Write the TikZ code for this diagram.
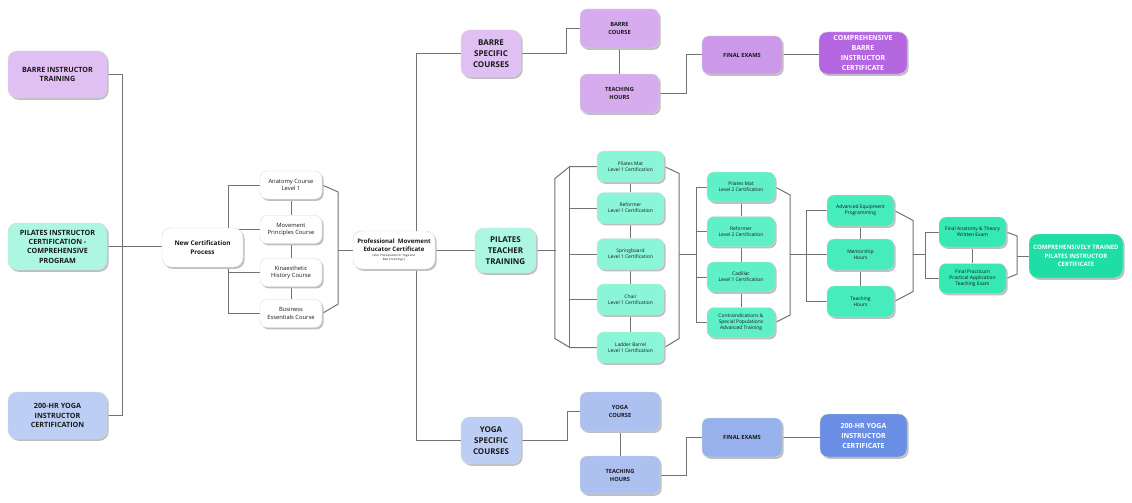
\documentclass[tikz,border=0pt]{standalone}
\usepackage{fontspec}
\setmainfont{Open Sans}
\usetikzlibrary{shadows,backgrounds}

\definecolor{linkgray}{HTML}{727272}
\definecolor{barreA}{HTML}{E0BFF3}
\definecolor{barreB}{HTML}{D6ACEE}
\definecolor{barreC}{HTML}{CB98EA}
\definecolor{barreD}{HTML}{B567E1}
\definecolor{mintA}{HTML}{ACF6E2}
\definecolor{mintB}{HTML}{8BF6D7}
\definecolor{mintC}{HTML}{5FF0C8}
\definecolor{mintD}{HTML}{47ECBC}
\definecolor{mintE}{HTML}{36E8B2}
\definecolor{mintF}{HTML}{1EDEA6}
\definecolor{blueA}{HTML}{BDCEF5}
\definecolor{blueB}{HTML}{ADC1F1}
\definecolor{blueC}{HTML}{97B1EC}
\definecolor{blueD}{HTML}{6A8EE3}

\newcommand{\tinynote}[1]{{\fontsize{3}{3.6}\selectfont\mdseries #1}}

\begin{document}
\begin{tikzpicture}[x=1pt,y=-1pt,
    box/.style={draw=gray!30, line width=0.4pt, rounded corners=7pt, align=center,
      inner sep=1pt, text=black!90,
      drop shadow={shadow xshift=1.6pt, shadow yshift=-1.8pt, fill=gray!50, opacity=1}},
    link/.style={draw=linkgray, line width=1pt},
    bigbox/.style={box, rounded corners=9pt, minimum width=99pt, minimum height=47pt,
      font=\fontsize{7.2}{9.3}\selectfont\bfseries},
    specbox/.style={box, rounded corners=9pt, minimum width=60pt, minimum height=47pt,
      font=\fontsize{8}{11}\selectfont\bfseries},
    stepbox/.style={box, minimum width=79pt, minimum height=39pt,
      font=\fontsize{5.7}{8}\selectfont\bfseries},
    certbox/.style={box, rounded corners=8pt, minimum width=88pt, minimum height=42pt,
      text=white, font=\fontsize{7}{10}\selectfont\bfseries},
    coursebox/.style={box, fill=white, minimum width=62pt, minimum height=28pt,
      font=\fontsize{5.8}{7.4}\selectfont},
    pbox/.style={box, minimum width=67pt, minimum height=31pt,
      font=\fontsize{4.9}{6.1}\selectfont},
  ]
  \useasboundingbox (0,0) rectangle (1132,503);

  % entry trainings
  \node[bigbox, fill=barreA] (barreIT) at (57.5,74.5) {BARRE INSTRUCTOR\\TRAINING};
  \node[bigbox, fill=mintA] (pilatesIC) at (57.5,246.5) {PILATES INSTRUCTOR\\CERTIFICATION -\\COMPREHENSIVE\\PROGRAM};
  \node[bigbox, fill=blueA] (yogaIC) at (57.5,415.5) {200-HR YOGA\\INSTRUCTOR\\CERTIFICATION};

  % certification process
  \node[box, fill=white, rounded corners=9pt, minimum width=81pt, minimum height=39pt,
    font=\fontsize{6.4}{8.5}\selectfont\bfseries] (newCert) at (202.5,247.5) {New Certification\\Process};
  \node[coursebox] (anatomy) at (291,185) {Anatomy Course\\Level 1};
  \node[coursebox] (movement) at (291,229.5) {Movement\\Principles Course};
  \node[coursebox] (kinaes) at (291,272.5) {Kinaesthetic\\History Course};
  \node[coursebox] (business) at (291,313.5) {Business\\Essentials Course};
  \node[box, fill=white, rounded corners=9pt, minimum width=82pt, minimum height=38pt,
    font=\fontsize{6.1}{8.3}\selectfont\bfseries] (profME) at (394,250)
    {Professional\ \ Movement\\Educator Certificate\\[-3pt]\tinynote{(also Prerequisite for Yoga and}\\[-4.5pt]\tinynote{Barre trainings )}};

  % barre
  \node[specbox, fill=barreA] (barreSC) at (491,53.5) {BARRE\\SPECIFIC\\COURSES};
  \node[stepbox, fill=barreB] (barreC) at (619.5,28.5) {BARRE\\COURSE};
  \node[stepbox, fill=barreB] (barreTH) at (619.5,93.5) {TEACHING\\HOURS};
  \node[stepbox, fill=barreC, minimum width=80pt, minimum height=38pt] (barreFE) at (742,55) {FINAL EXAMS};
  \node[certbox, fill=barreD] (barreCert) at (863,53) {COMPREHENSIVE\\BARRE\\INSTRUCTOR\\CERTIFICATE};

  % pilates
  \node[specbox, fill=mintA, minimum width=61pt, minimum height=45pt] (pilatesTT) at (505.5,250.5) {PILATES\\TEACHER\\TRAINING};
  \node[pbox, fill=mintB] (pm1) at (630.5,166.5) {Pilates Mat\\Level 1 Certification};
  \node[pbox, fill=mintB] (rf1) at (630.5,208) {Reformer\\Level 1 Certification};
  \node[pbox, fill=mintB] (sb1) at (630.5,254) {Springboard\\Level 1 Certification};
  \node[pbox, fill=mintB] (ch1) at (630.5,299.5) {Chair\\Level 1 Certification};
  \node[pbox, fill=mintB] (lb1) at (630.5,347.5) {Ladder Barrel\\Level 1 Certification};

  \node[pbox, fill=mintC, minimum width=68pt, minimum height=30pt] (pm2) at (741,187) {Pilates Mat\\Level 2 Certification};
  \node[pbox, fill=mintC, minimum width=68pt, minimum height=30pt] (rf2) at (741,231.5) {Reformer\\Level 2 Certification};
  \node[pbox, fill=mintC, minimum width=68pt, minimum height=30pt] (cd2) at (741,277) {Cadillac\\Level 1 Certification};
  \node[pbox, fill=mintC, minimum width=68pt, minimum height=30pt] (ct2) at (741,322.5) {Contraindications \&\\Special Populations\\Advanced Training};

  \node[pbox, fill=mintD] (ae3) at (860.5,210.5) {Advanced Equipment\\Programming};
  \node[pbox, fill=mintD] (mh3) at (860.5,254.5) {Mentorship\\Hours};
  \node[pbox, fill=mintD] (th3) at (860.5,301.5) {Teaching\\Hours};

  \node[pbox, fill=mintE, minimum height=30pt] (fa4) at (972.5,232) {Final Anatomy \& Theory\\Written Exam};
  \node[pbox, fill=mintE, minimum height=30pt] (fp4) at (972.5,278.5) {Final Practicum\\Practical Application\\Teaching Exam};

  \node[certbox, fill=mintF, minimum width=94pt, minimum height=44pt, rounded corners=9pt,
    font=\fontsize{6}{8.7}\selectfont\bfseries] (pilatesCert) at (1076,256) {COMPREHENSIVELY TRAINED\\PILATES INSTRUCTOR\\CERTIFICATE};

  % yoga
  \node[specbox, fill=blueA] (yogaSC) at (491,440.5) {YOGA\\SPECIFIC\\COURSES};
  \node[stepbox, fill=blueB, minimum width=80pt] (yogaC) at (620,411.5) {YOGA\\COURSE};
  \node[stepbox, fill=blueB, minimum width=80pt, minimum height=38pt] (yogaTH) at (620,475) {TEACHING\\HOURS};
  \node[stepbox, fill=blueC, minimum width=80pt] (yogaFE) at (742,437.5) {FINAL EXAMS};
  \node[certbox, fill=blueD, minimum width=87pt, minimum height=43pt] (yogaCert) at (863.5,435.5) {200-HR YOGA\\INSTRUCTOR\\CERTIFICATE};

  \begin{scope}[on background layer]
    % left trunk
    \draw[link] (barreIT.east) -- ++(15,0) |- (yogaIC.east);
    \draw[link] (pilatesIC.east) -- (pilatesIC.east -| newCert.west);
    % course bracket
    \draw[link] (anatomy.west) -- ++(-31,0) |- (business.west);
    \foreach \n in {movement,kinaes} \draw[link] (\n.west) -- ++(-31,0);
    \foreach \a/\b in {anatomy/movement,movement/kinaes,kinaes/business} \draw[link] (\a.south) -- (\b.north);
    \draw[link] (anatomy.east) -- ++(16,7) -- ++(0,112) -- (business.east);
    \draw[link] (profME.west) -- ++(-15,0);
    % trunk to the specific courses
    \draw[link] (barreSC.west) -- ++(-44,0) |- (yogaSC.west);
    \draw[link] (profME.east) -- (profME.east -| pilatesTT.west);

    % barre
    \draw[link] (barreSC.east) -- ++(45,0) |- (barreC.west);
    \draw[link] (barreC.south) -- (barreTH.north);
    \draw[link] (barreTH.east) -- ++(27,0) |- (barreFE.west);
    \draw[link] (barreFE.east) -- (barreFE.east -| barreCert.west);

    % pilates level 1
    \draw[link] (pilatesTT.east) -- ++(19.5,0);
    \draw[link] (pm1.west) -- ++(-27,0) -- ++(-15,12) -- ++(0,160) -- ++(15,9) -- (lb1.west);
    \draw[link] ([xshift=-27pt]pm1.west) -- ([xshift=-27pt]lb1.west);
    \foreach \n in {rf1,sb1,ch1} \draw[link] (\n.west) -- ++(-27,0);
    \foreach \a/\b in {pm1/rf1,rf1/sb1,sb1/ch1,ch1/lb1} \draw[link] (\a.south) -- (\b.north);
    \draw[link] (pm1.east) -- ++(15,7) -- ++(0,165) -- (lb1.east);
    \draw[link] ([xshift=15pt]sb1.east) -- ++(18,0);
    % level 2
    \draw[link] (pm2.west) -- ++(-10,0) |- (ct2.west);
    \foreach \n in {rf2,cd2} \draw[link] (\n.west) -- ++(-10,0);
    \foreach \a/\b in {pm2/rf2,rf2/cd2,cd2/ct2} \draw[link] (\a.south) -- (\b.north);
    \draw[link] (pm2.east) -- ++(15,8) -- ++(0,120) -- (ct2.east);
    \draw[link] ([xshift=-20pt]mh3.west) -- ++(-17,0);
    % advanced
    \draw[link] (ae3.west) -- ++(-20,0) |- (th3.west);
    \draw[link] (mh3.west) -- ++(-20,0);
    \foreach \a/\b in {ae3/mh3,mh3/th3} \draw[link] (\a.south) -- (\b.north);
    \draw[link] (ae3.east) -- ++(19,10) -- ++(0,71) -- (th3.east);
    \draw[link] ([xshift=19pt]mh3.east) -- ++(13,0);
    % final exams
    \draw[link] (fa4.west) -- ++(-13,0) |- (fp4.west);
    \draw[link] (fa4.south) -- (fp4.north);
    \draw[link] (fa4.east) -- ++(11,4) -- ++(0,38) -- (fp4.east);
    \draw[link] (pilatesCert.west) -- ++(-12,0);

    % yoga
    \draw[link] (yogaSC.east) -- ++(46,0) |- (yogaC.west);
    \draw[link] (yogaC.south) -- (yogaTH.north);
    \draw[link] (yogaTH.east) -- ++(26,0) |- (yogaFE.west);
    \draw[link] (yogaFE.east) -- (yogaFE.east -| yogaCert.west);
  \end{scope}
\end{tikzpicture}
\end{document}
